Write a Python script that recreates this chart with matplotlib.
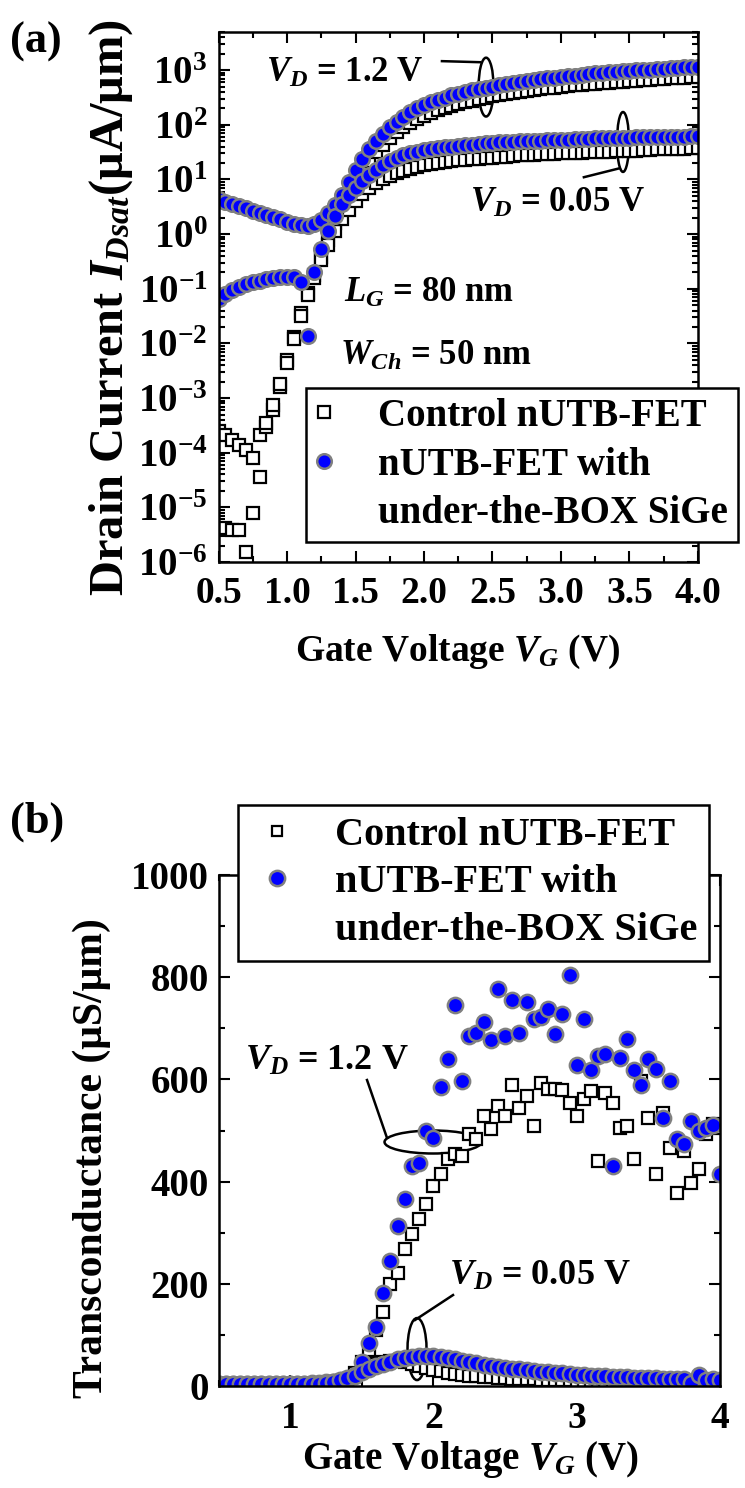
import numpy as np
import matplotlib
matplotlib.use("Agg")
import matplotlib.pyplot as plt
from matplotlib.lines import Line2D
from matplotlib.patches import Ellipse
from matplotlib.ticker import FixedLocator, MultipleLocator, LogLocator, NullFormatter, FuncFormatter

plt.rcParams['font.family'] = 'Liberation Serif'
plt.rcParams['font.weight'] = 'bold'
plt.rcParams['axes.labelweight'] = 'bold'
plt.rcParams['mathtext.fontset'] = 'custom'
plt.rcParams['mathtext.rm'] = 'Liberation Serif:bold'
plt.rcParams['mathtext.it'] = 'Liberation Serif:italic:bold'
plt.rcParams['mathtext.bf'] = 'Liberation Serif:bold'

# gate voltage sweep (V)
vg = [0.50, 0.55, 0.60, 0.65, 0.70, 0.75, 0.80, 0.85, 0.90, 0.95,
      1.00, 1.05, 1.10, 1.15, 1.20, 1.25, 1.30, 1.35, 1.40, 1.45,
      1.50, 1.55, 1.60, 1.65, 1.70, 1.75, 1.80, 1.85, 1.90, 1.95,
      2.00, 2.05, 2.10, 2.15, 2.20, 2.25, 2.30, 2.35, 2.40, 2.45,
      2.50, 2.55, 2.60, 2.65, 2.70, 2.75, 2.80, 2.85, 2.90, 2.95,
      3.00, 3.05, 3.10, 3.15, 3.20, 3.25, 3.30, 3.35, 3.40, 3.45,
      3.50, 3.55, 3.60, 3.65, 3.70, 3.75, 3.80, 3.85, 3.90, 3.95,
      4.00]

# (a) drain current, log10 of uA/um
log_id_sige_12 = [0.64, 0.59, 0.55, 0.51, 0.47, 0.43, 0.39, 0.35, 0.31, 0.27,
                  0.23, 0.19, 0.16, 0.14, 0.18, 0.26, 0.38, 0.53, 0.72, 0.95,
                  1.17, 1.38, 1.56, 1.71, 1.84, 1.96, 2.06, 2.15, 2.23, 2.30,
                  2.36, 2.41, 2.46, 2.50, 2.54, 2.57, 2.60, 2.63, 2.65, 2.68,
                  2.70, 2.72, 2.74, 2.76, 2.78, 2.80, 2.82, 2.83, 2.85, 2.86,
                  2.88, 2.89, 2.90, 2.92, 2.93, 2.94, 2.95, 2.96, 2.97, 2.98,
                  2.99, 3.00, 3.01, 3.01, 3.02, 3.03, 3.04, 3.04, 3.05, 3.06,
                  3.06]
log_id_ctrl_12 = [-3.60, -3.68, -3.77, -3.86, -3.95, -4.10, -3.68, -3.53, -3.22, -2.80,
                  -2.31, -1.89, -1.45, -1.08, -0.75, -0.42, -0.11, 0.20, 0.48, 0.72,
                  0.95, 1.15, 1.33, 1.50, 1.64, 1.76, 1.87, 1.96, 2.04, 2.11,
                  2.17, 2.22, 2.27, 2.31, 2.35, 2.38, 2.41, 2.44, 2.47, 2.49,
                  2.52, 2.54, 2.56, 2.58, 2.60, 2.62, 2.64, 2.65, 2.67, 2.68,
                  2.70, 2.71, 2.72, 2.73, 2.74, 2.75, 2.76, 2.77, 2.78, 2.79,
                  2.80, 2.81, 2.82, 2.82, 2.83, 2.84, 2.85, 2.85, 2.86, 2.87,
                  2.87]
log_id_sige_005 = [-1.18, -1.10, -1.03, -0.97, -0.92, -0.88, -0.85, -0.82, -0.80, -0.79,
                   -0.78, -0.79, -0.88, -1.87, -0.70, -0.28, 0.06, 0.33, 0.55, 0.72,
                   0.85, 0.97, 1.08, 1.18, 1.26, 1.33, 1.39, 1.44, 1.48, 1.51,
                   1.54, 1.56, 1.58, 1.59, 1.60, 1.61, 1.63, 1.64, 1.65, 1.66,
                   1.67, 1.68, 1.69, 1.69, 1.70, 1.70, 1.71, 1.71, 1.72, 1.72,
                   1.73, 1.73, 1.74, 1.74, 1.74, 1.75, 1.75, 1.75, 1.76, 1.76,
                   1.76, 1.77, 1.77, 1.77, 1.77, 1.78, 1.78, 1.78, 1.78, 1.79,
                   1.79]
log_id_ctrl_005 = [-5.40, -5.38, -5.42, -5.42, -5.82, -5.10, -4.45, -3.46, -3.12, -2.75,
                   -2.35, -1.92, -1.50, -1.12, -0.80, -0.48, -0.20, 0.05, 0.27, 0.45,
                   0.60, 0.73, 0.84, 0.93, 1.00, 1.06, 1.11, 1.16, 1.20, 1.23,
                   1.26, 1.28, 1.30, 1.32, 1.33, 1.35, 1.36, 1.37, 1.38, 1.39,
                   1.40, 1.41, 1.42, 1.43, 1.44, 1.44, 1.45, 1.46, 1.46, 1.47,
                   1.48, 1.48, 1.49, 1.49, 1.50, 1.50, 1.51, 1.51, 1.52, 1.52,
                   1.53, 1.53, 1.54, 1.54, 1.55, 1.55, 1.55, 1.56, 1.56, 1.57,
                   1.57]

# (b) transconductance, uS/um
gm_sige_12 = [5, 5, 5, 5, 5, 5, 5, 5, 5, 5,
              5, 5, 5, 6, 6, 7, 8, 10, 14, 21,
              47, 84, 115, 183, 245, 314, 366, 430, 436, 499,
              485, 586, 639, 746, 596, 684, 690, 713, 678, 777,
              684, 756, 690, 752, 719, 723, 738, 688, 727, 805,
              629, 719, 619, 645, 649, 430, 641, 680, 619, 590,
              639, 621, 524, 596, 483, 473, 518, 499, 505, 510,
              415]
gm_ctrl_12 = [3, 3, 3, 3, 3, 3, 3, 3, 3, 3,
              3, 3, 3, 4, 5, 6, 8, 10, 14, 25,
              47, 70, 109, 144, 200, 222, 269, 298, 327, 356,
              392, 415, 444, 454, 450, 493, 483, 528, 503, 547,
              528, 590, 544, 567, 508, 592, 582, 582, 580, 553,
              528, 561, 577, 440, 573, 553, 505, 508, 444, 596,
              524, 415, 534, 466, 378, 460, 397, 425, 493, 512,
              505]
gm_sige_005 = [4, 4, 4, 4, 4, 4, 4, 4, 4, 4,
               4, 4, 4, 5, 5, 6, 8, 11, 15, 20,
               27, 33, 39, 44, 48, 52, 55, 57, 58, 59,
               58, 56, 54, 52, 50, 47, 45, 42, 40, 38,
               36, 34, 33, 31, 30, 28, 27, 26, 25, 23,
               22, 21, 20, 19, 19, 18, 17, 17, 16, 16,
               15, 15, 14, 14, 14, 13, 6, 22, 12, 14,
               12]
gm_ctrl_005 = [2, 2, 2, 2, 2, 2, 2, 2, 2, 2,
               2, 2, 2, 3, 3, 4, 5, 8, 12, 20,
               29, 37, 43, 47, 49, 49, 47, 44, 40, 36,
               32, 29, 26, 24, 22, 20, 19, 18, 17, 16,
               15, 14, 14, 13, 13, 12, 12, 11, 11, 11,
               10, 10, 10, 9, 9, 9, 9, 8, 8, 8,
               8, 8, 7, 7, 7, 7, 7, 7, 6, 6,
               6]

BLUE = '#0000ff'
GREY = '#808080'
sq_style = dict(ls='none', marker='s', mfc='white', mec='black', mew=1.6)
ci_style = dict(ls='none', marker='o', mfc=BLUE, mec=GREY, mew=1.8)

fig = plt.figure(figsize=(7.45, 14.88), dpi=100)
ax1 = fig.add_axes([0.2933, 0.6223, 0.6436, 0.3562])
ax2 = fig.add_axes([0.2933, 0.0685, 0.6732, 0.3435])

for ax in (ax1, ax2):
    for s in ax.spines.values():
        s.set_linewidth(1.8)

# ---------------- (a) transfer curves ----------------
ax1.set_yscale('log')
for arr in (log_id_ctrl_12, log_id_ctrl_005):
    ax1.plot(vg, 10.0 ** np.array(arr), ms=8, **sq_style)
for arr in (log_id_sige_12, log_id_sige_005):
    ax1.plot(vg, 10.0 ** np.array(arr), ms=10.5, **ci_style)

ax1.set_xlim(0.5, 4.0)
ax1.set_ylim(1e-6, 5e3)
ax1.xaxis.set_major_locator(MultipleLocator(0.5))
ax1.xaxis.set_minor_locator(MultipleLocator(0.25))
ax1.xaxis.set_major_formatter(FuncFormatter(lambda v, _: '%.1f' % v))
ax1.yaxis.set_major_locator(LogLocator(base=10, numticks=20))
ax1.yaxis.set_minor_locator(LogLocator(base=10, subs=np.arange(2, 10), numticks=20))
ax1.yaxis.set_minor_formatter(NullFormatter())
ax1.yaxis.set_major_formatter(FuncFormatter(lambda v, _: r'$10^{%d}$' % round(np.log10(v))))
ax1.tick_params(which='both', direction='in', top=True, right=True, width=1.5)
ax1.tick_params(which='major', length=8)
ax1.tick_params(which='minor', length=4)
ax1.tick_params(axis='x', labelsize=27, pad=10)
ax1.tick_params(axis='y', labelsize=28, pad=8)

ax1.set_xlabel(r'Gate Voltage $V_G$ (V)', fontsize=27, fontweight='bold')
ax1.xaxis.set_label_coords(0.498, -0.134)
ax1.set_ylabel(r'Drain Current $I_{Dsat}$(μA/μm)', fontsize=35, fontweight='bold')
ax1.yaxis.set_label_coords(-0.174, 0.481)

ax1.text(0.099, 0.906, r'$V_D$ = 1.2 V', transform=ax1.transAxes, fontsize=25, va='baseline')
ax1.text(0.5245, 0.660, r'$V_D$ = 0.05 V', transform=ax1.transAxes, fontsize=25, va='baseline')
ax1.text(0.2617, 0.4906, r'$L_G$ = 80 nm', transform=ax1.transAxes, fontsize=25, va='baseline')
ax1.text(0.2534, 0.3717, r'$W_{Ch}$ = 50 nm', transform=ax1.transAxes, fontsize=25, va='baseline')

ax1.plot([0.466, 0.545], [0.945, 0.943], transform=ax1.transAxes, color='black', lw=1.8)
ax1.add_patch(Ellipse((0.558, 0.896), 0.0313, 0.111, transform=ax1.transAxes,
                      fill=False, ec='black', lw=1.8))
ax1.plot([0.837, 0.762], [0.743, 0.726], transform=ax1.transAxes, color='black', lw=1.8)
ax1.add_patch(Ellipse((0.8436, 0.7925), 0.025, 0.113, transform=ax1.transAxes,
                      fill=False, ec='black', lw=1.8))

handles_a = [Line2D([], [], ms=8.5, **sq_style),
             Line2D([], [], ms=10.5, **ci_style),
             Line2D([], [], ls='none')]
labels = ['Control nUTB-FET', 'nUTB-FET with', 'under-the-BOX SiGe']
leg1 = ax1.legend(handles_a, labels, loc='upper left', bbox_to_anchor=(0.1825, 0.328),
                  fontsize=28, frameon=True, fancybox=False, framealpha=1,
                  edgecolor='black', borderaxespad=0, borderpad=0.25,
                  handlelength=0.45, handletextpad=1.15, labelspacing=0.3)
leg1.get_frame().set_linewidth(1.8)
leg1.set_clip_on(False)

# ---------------- (b) transconductance ----------------
for arr in (gm_ctrl_12, gm_ctrl_005):
    ax2.plot(vg, arr, ms=8.5, **sq_style)
for arr in (gm_sige_12, gm_sige_005):
    ax2.plot(vg, arr, ms=11, **ci_style)

ax2.set_xlim(0.5, 4.0)
ax2.set_ylim(0, 1000)
ax2.xaxis.set_major_locator(FixedLocator([1, 2, 3, 4]))
ax2.xaxis.set_minor_locator(MultipleLocator(0.5))
ax2.yaxis.set_major_locator(MultipleLocator(200))
ax2.yaxis.set_minor_locator(MultipleLocator(100))
ax2.tick_params(which='both', direction='in', top=True, right=True, width=1.5)
ax2.tick_params(which='major', length=8)
ax2.tick_params(which='minor', length=4)
ax2.tick_params(axis='x', labelsize=27, pad=11)
ax2.tick_params(axis='y', labelsize=28, pad=7)

ax2.set_xlabel(r'Gate Voltage $V_G$ (V)', fontsize=28, fontweight='bold')
ax2.xaxis.set_label_coords(0.5025, -0.104)
ax2.set_ylabel('Transconductance (μS/μm)', fontsize=30, fontweight='bold')
ax2.yaxis.set_label_coords(-0.214, 0.447)

ax2.text(0.0528, 0.618, r'$V_D$ = 1.2 V', transform=ax2.transAxes, fontsize=26, va='baseline')
ax2.text(0.4597, 0.1977, r'$V_D$ = 0.05 V', transform=ax2.transAxes, fontsize=26, va='baseline')

ax2.plot([0.2961, 0.3360], [0.5988, 0.4853], transform=ax2.transAxes, color='black', lw=1.8)
ax2.add_patch(Ellipse((0.4277, 0.4775), 0.1934, 0.045, transform=ax2.transAxes,
                      fill=False, ec='black', lw=1.8))
ax2.plot([0.4676, 0.3918], [0.1781, 0.1292], transform=ax2.transAxes, color='black', lw=1.8)
ax2.add_patch(Ellipse((0.3958, 0.0724), 0.0379, 0.1213, transform=ax2.transAxes,
                      fill=False, ec='black', lw=1.8))

handles_b = [Line2D([], [], ms=7, **sq_style),
             Line2D([], [], ms=11, **ci_style),
             Line2D([], [], ls='none')]
leg2 = ax2.legend(handles_b, labels, loc='upper left', bbox_to_anchor=(0.038, 1.137),
                  fontsize=29, frameon=True, fancybox=False, framealpha=1,
                  edgecolor='black', borderaxespad=0, borderpad=0.3,
                  handlelength=1.375, handletextpad=0.74, labelspacing=0.25)
leg2.get_frame().set_linewidth(1.8)
leg2.set_clip_on(False)

fig.text(0.013, 0.972, '(a)', fontsize=32, va='center')
fig.text(0.013, 0.448, '(b)', fontsize=32, va='center')

fig.savefig('out.png', dpi=100)
